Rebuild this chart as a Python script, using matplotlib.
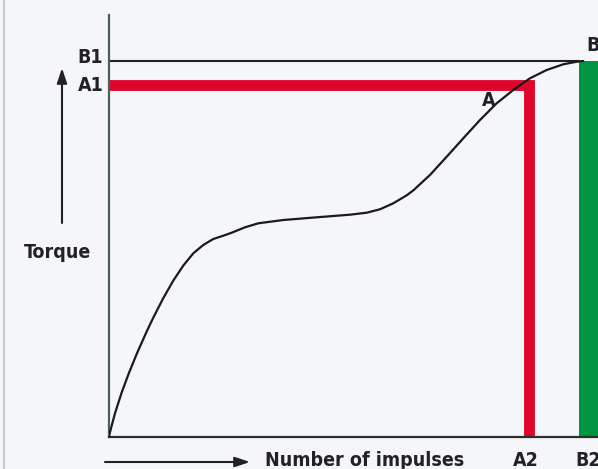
import matplotlib.pyplot as plt
from matplotlib.lines import Line2D

# torque curve (impulses and torque in % of axis length)
impulses = [0, 0.14, 1.23, 2.60, 3.95, 5.66, 7.71, 9.06, 11.10, 13.15, 15.19,
            17.24, 19.28, 21.33, 23.37, 25.09, 27.81, 30.53, 35.64, 42.47,
            49.28, 52.70, 55.42, 58.14, 60.88, 62.23, 65.64, 69.06, 72.45,
            75.87, 79.28, 82.68, 86.09, 89.51, 92.90, 95.64, 96.99]
torque = [0, 0.88, 5.64, 10.57, 14.79, 19.67, 25.00, 28.29, 32.91, 37.06, 40.62,
          43.53, 45.50, 46.92, 47.70, 48.41, 49.69, 50.64, 51.42, 52.06,
          52.68, 53.15, 53.96, 55.38, 57.27, 58.44, 62.09, 66.42, 70.78,
          75.12, 79.08, 82.23, 85.00, 86.97, 88.32, 88.93, 89.10]

b1_torque = 89.1     # peak torque
a1_torque = 83.4     # torque reached at A
a2_impulses = 85.9   # impulses at A
b2_impulses = 96.2   # impulses at B

plt.rcParams['font.family'] = ['DejaVu Sans']
plt.rcParams['font.weight'] = 'bold'
plt.rcParams['font.stretch'] = 'condensed'

bg = '#f5f6fa'
red = '#e0052a'
green = '#009640'
ink = '#222222'

fig = plt.figure(figsize=(5.98, 4.69), dpi=100, facecolor=bg)
ax = fig.add_axes([109 / 598, 32 / 469, 489 / 598, 422 / 469])
ax.set_facecolor(bg)
ax.set_xlim(0, 100)
ax.set_ylim(0, 100)

# red guide for point A, green bar at B
ax.plot([0, a2_impulses, a2_impulses], [a1_torque, a1_torque, 0], color=red,
        lw=7.8, solid_joinstyle='miter', solid_capstyle='butt', zorder=1)
ax.bar(b2_impulses, b1_torque, width=8, align='edge', color=green,
       clip_on=False, zorder=1)
ax.plot([0, b2_impulses], [b1_torque, b1_torque], color=ink, lw=1.5, zorder=2)

ax.plot(impulses, torque, color='#1a1a1a', lw=1.6, solid_joinstyle='round',
        solid_capstyle='round', zorder=3)

for side in ['top', 'right']:
    ax.spines[side].set_visible(False)
ax.spines['left'].set_color('#4f5d5d')
ax.spines['left'].set_linewidth(1.6)
ax.spines['bottom'].set_color('#2b2f2f')
ax.spines['bottom'].set_linewidth(1.6)
ax.set_xticks([])
ax.set_yticks([])

fs = 14
ax.annotate('B1', xy=(0, b1_torque), xytext=(-4, 2.5), textcoords='offset points',
            ha='right', va='center', fontsize=fs, color=ink)
ax.annotate('A1', xy=(0, a1_torque), xytext=(-4, -0.5), textcoords='offset points',
            ha='right', va='center', fontsize=fs, color=ink)
ax.annotate('A', xy=(a2_impulses, a1_torque), xytext=(-29, -11), textcoords='offset points',
            ha='center', va='center', fontsize=fs, color=ink)
ax.annotate('B', xy=(b2_impulses, b1_torque), xytext=(10, 11), textcoords='offset points',
            ha='center', va='center', fontsize=fs, color=ink, annotation_clip=False)
ax.annotate('A2', xy=(a2_impulses, 0), xytext=(-2, -17), textcoords='offset points',
            ha='center', va='center', fontsize=fs, color=ink, annotation_clip=False)
ax.annotate('B2', xy=(b2_impulses, 0), xytext=(6, -17), textcoords='offset points',
            ha='center', va='center', fontsize=fs, color=ink, annotation_clip=False)

fig.text(58 / 598, 1 - 252 / 469, 'Torque', ha='center', va='center',
         fontsize=fs, color=ink)
fig.text(265 / 598, 1 - 460 / 469, 'Number of impulses', ha='left', va='center',
         fontsize=fs, color=ink)

arrow = dict(arrowstyle='-|>,head_length=0.9,head_width=0.3', color=ink, lw=1.5,
             shrinkA=0, shrinkB=0)
fig.add_artist(plt.Annotation('', xy=(62 / 598, 1 - 68 / 469), xytext=(62 / 598, 1 - 223 / 469),
                              xycoords='figure fraction', arrowprops=arrow))
fig.add_artist(plt.Annotation('', xy=(250 / 598, 1 - 462 / 469), xytext=(105 / 598, 1 - 462 / 469),
                              xycoords='figure fraction', arrowprops=arrow))

fig.add_artist(Line2D([4 / 598, 4 / 598], [0, 1], color='#c8c8cc', lw=1.5))

fig.savefig('out.png', dpi=100, facecolor=bg)
